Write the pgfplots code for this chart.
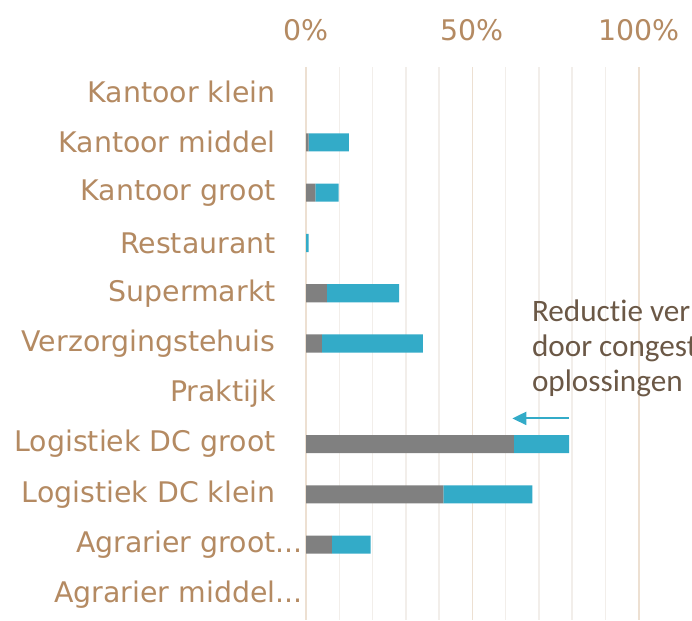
\documentclass[border=0pt]{standalone}
\usepackage{pgfplots}
\pgfplotsset{compat=1.18}
\usepackage{pgfplotstable}
\usepackage{fontspec}
\setmainfont{DejaVu Sans}
\newfontfamily\notefont[Ligatures=NoCommon]{Carlito}
\usetikzlibrary{arrows.meta}

\definecolor{tanlab}{RGB}{180,138,98}
\definecolor{gridmaj}{RGB}{237,224,210}
\definecolor{gridmin}{RGB}{242,238,234}
\definecolor{barblue}{RGB}{51,171,200}
\definecolor{bargray}{RGB}{128,128,128}
\definecolor{notecol}{RGB}{107,88,70}

% idx 0 = top category; base = grey part, extra = blue part (in %)
\pgfplotstableread{
idx base extra
0  0    0
1  0.8  12.1
2  2.8  7.0
3  0    0.8
4  6.3  21.7
5  4.8  30.3
6  0    0
7  62.5 16.6
8  41.3 26.7
9  7.8  11.6
10 0    0
}\datatable

\begin{document}
\begin{tikzpicture}
\begin{axis}[
  name=ax,
  scale only axis, width=193pt, height=276.5pt,
  xmin=0, xmax=116, ymin=-0.5, ymax=10.5, y dir=reverse,
  xbar stacked, bar width=0.36,
  axis line style={draw=none},
  major tick length=0pt, minor tick length=0pt,
  xtick={0,50,100}, xticklabels={0\%,50\%,100\%},
  minor xtick={10,20,30,40,60,70,80,90},
  xmajorgrids, xminorgrids,
  major grid style={draw=gridmaj, line width=0.75pt},
  minor grid style={draw=gridmin, line width=0.75pt},
  xticklabel pos=upper,
  ytick={0,...,10},
  yticklabels={Kantoor klein,Kantoor middel,Kantoor groot,Restaurant,Supermarkt,
    Verzorgingstehuis,Praktijk,Logistiek DC groot,Logistiek DC klein\hspace{2pt},
    Agrarier groot\rlap{...},Agrarier middel\rlap{...}},
  ticklabel style={font=\fontsize{14.2}{17}\selectfont, text=tanlab},
  xticklabel style={anchor=base, inner sep=0pt, yshift=13pt},
  yticklabel style={anchor=east, inner sep=0pt, xshift=-15pt},
]
\addplot[fill=bargray, draw=none] table[x=base, y=idx] {\datatable};
\addplot[fill=barblue, draw=none] table[x=extra, y=idx] {\datatable};

\node[anchor=base west, inner sep=0pt, font=\notefont\fontsize{15.6}{18}\selectfont, text=notecol]
  at (axis cs:67.8,4.56) {Reductie ver};
\node[anchor=base west, inner sep=0pt, font=\notefont\fontsize{15.6}{18}\selectfont, text=notecol]
  at (axis cs:67.8,5.255) {door congest};
\node[anchor=base west, inner sep=0pt, font=\notefont\fontsize{15.6}{18}\selectfont, text=notecol]
  at (axis cs:67.8,5.95) {oplossingen};
\draw[barblue, line width=1pt, -{Triangle[length=7pt,width=6.5pt]}]
  (axis cs:79.1,6.49) -- (axis cs:62.0,6.49);
\end{axis}
\pgfresetboundingbox
\path[use as bounding box] ([xshift=-153pt]ax.south west) rectangle ([yshift=33.5pt]ax.north east);
\end{tikzpicture}
\end{document}
